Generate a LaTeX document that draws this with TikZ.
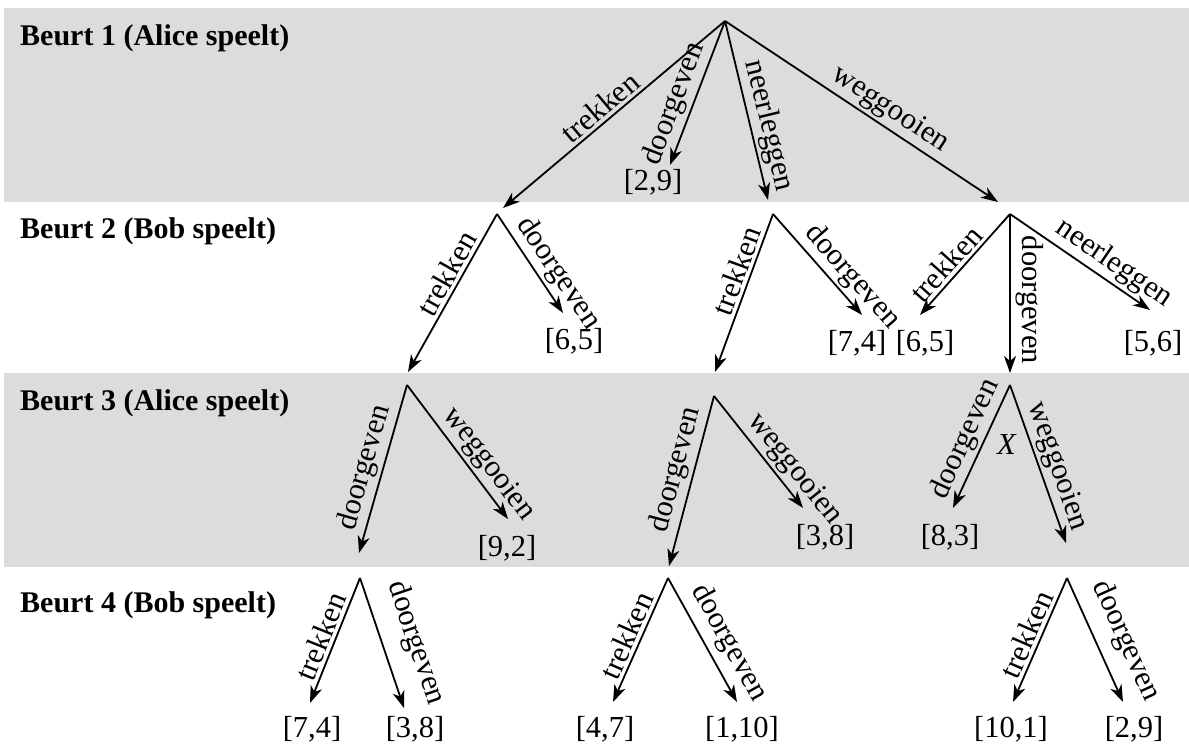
\documentclass[tikz,border=0pt]{standalone}
\usepackage{fontspec}
\setmainfont{Liberation Serif}
\usetikzlibrary{arrows.meta}
\definecolor{bandgray}{RGB}{220,220,220}
\begin{document}
\begin{tikzpicture}[x=1pt,y=-1pt,
  edge/.style={line width=1.8pt, -{Stealth[length=17pt,width=12pt,inset=5pt]}},
  lab/.style={sloped, above, inner sep=3pt, font=\fontsize{30.5}{36}\selectfont},
  pay/.style={inner sep=0pt, font=\fontsize{30.5}{36}\selectfont},
  head/.style={anchor=base west, inner sep=0pt, font=\fontsize{30}{36}\selectfont\bfseries}
]
\useasboundingbox (0,0) rectangle (1189,747);
\fill[bandgray] (4,8) rectangle (1189,202);
\fill[bandgray] (4,373) rectangle (1189,567);

\node[head] (h1) at (20,45) {Beurt 1 (Alice speelt)};
\node[head] (h2) at (20,238) {Beurt 2 (Bob speelt)};
\node[head] (h3) at (20,410) {Beurt 3 (Alice speelt)};
\node[head] (h4) at (20,612) {Beurt 4 (Bob speelt)};

% vertices
\coordinate (r) at (725,21);
\coordinate (b1) at (497,214);
\coordinate (b2) at (773,214);
\coordinate (b3) at (1010,214);
\coordinate (a1) at (407,385);
\coordinate (a2) at (714,396);
\coordinate (a3) at (1010,385);
\coordinate (c1) at (360,578);
\coordinate (c2) at (668,578);
\coordinate (c3) at (1067,578);

% arrow tips
\coordinate (t-r-b1) at (503,208);
\coordinate (t-r-29) at (670,165);
\coordinate (t-r-b2) at (768,200);
\coordinate (t-r-b3) at (998,202);
\coordinate (t-b1-a1) at (408,372);
\coordinate (t-b1-65) at (563,313);
\coordinate (t-b2-a2) at (715,372);
\coordinate (t-b2-74) at (862,315);
\coordinate (t-b3-65) at (920,315);
\coordinate (t-b3-a3) at (1010,373);
\coordinate (t-b3-56) at (1150,310);
\coordinate (t-a1-c1) at (359,553);
\coordinate (t-a1-92) at (508,519);
\coordinate (t-a2-c2) at (669,566);
\coordinate (t-a2-38) at (803,508);
\coordinate (t-a3-83) at (953,508);
\coordinate (t-a3-c3) at (1066,543);
\coordinate (t-c1-74) at (310,703);
\coordinate (t-c1-38) at (404,708);
\coordinate (t-c2-47) at (613,702);
\coordinate (t-c2-110) at (737,702);
\coordinate (t-c3-101) at (1013,702);
\coordinate (t-c3-29) at (1123,702);

% Beurt 1
\draw[edge] (r) -- node[lab,pos=0.52]{trekken} (t-r-b1);
\draw[edge] (r) -- node[lab,pos=0.62]{doorgeven} (t-r-29);
\draw[edge] (r) -- node[lab,pos=0.61]{neerleggen} (t-r-b2);
\draw[edge] (r) -- node[lab,pos=0.57]{weggooien} (t-r-b3);
\node[pay] (p-r-29) at (653,182) {[2,9]};

% Beurt 2
\draw[edge] (b1) -- node[lab,pos=0.42]{trekken} (t-b1-a1);
\draw[edge] (b1) -- node[lab,pos=0.70]{doorgeven} (t-b1-65);
\node[pay] (p-b1-65) at (574,341) {[6,5]};
\draw[edge] (b2) -- node[lab,pos=0.39]{trekken} (t-b2-a2);
\draw[edge] (b2) -- node[lab,pos=0.74]{doorgeven} (t-b2-74);
\node[pay] (p-b2-74) at (857,343) {[7,4]};
\draw[edge] (b3) -- node[lab,pos=0.59]{trekken} (t-b3-65);
\node[pay] (p-b3-65) at (925,343) {[6,5]};
\draw[edge] (b3) -- node[pos=0.54, rotate=-90, anchor=south, inner sep=5pt, font=\fontsize{30.5}{36}\selectfont]{doorgeven} (t-b3-a3);
\draw[edge] (b3) -- node[lab,pos=0.67]{neerleggen} (t-b3-56);
\node[pay] (p-b3-56) at (1153,343) {[5,6]};

% Beurt 3
\draw[edge] (a1) -- node[lab,pos=0.52]{doorgeven} (t-a1-c1);
\draw[edge] (a1) -- node[lab,pos=0.67]{weggooien} (t-a1-92);
\node[pay] (p-a1-92) at (507,548) {[9,2]};
\draw[edge] (a2) -- node[lab,pos=0.46]{doorgeven} (t-a2-c2);
\draw[edge] (a2) -- node[lab,pos=0.75]{weggooien} (t-a2-38);
\node[pay] (p-a2-38) at (825,537) {[3,8]};
\draw[edge] (a3) -- node[lab,pos=0.5]{doorgeven} (t-a3-83);
\node[pay] (p-a3-83) at (950,537) {[8,3]};
\draw[edge] (a3) -- node[lab,pos=0.55]{weggooien} (t-a3-c3);
\node[pay] (xlab) at (1007,445) {\textit{X}};

% Beurt 4
\draw[edge] (c1) -- node[lab,pos=0.51]{trekken} (t-c1-74);
\draw[edge] (c1) -- node[lab,pos=0.58,above=14pt]{doorgeven} (t-c1-38);
\node[pay] (p-c1-74) at (312,729) {[7,4]};
\node[pay] (p-c1-38) at (415,729) {[3,8]};
\draw[edge] (c2) -- node[lab,pos=0.51]{trekken} (t-c2-47);
\draw[edge] (c2) -- node[lab,pos=0.61,above=4pt]{doorgeven} (t-c2-110);
\node[pay] (p-c2-47) at (605,729) {[4,7]};
\node[pay] (p-c2-110) at (742,729) {[1,10]};
\draw[edge] (c3) -- node[lab,pos=0.5]{trekken} (t-c3-101);
\draw[edge] (c3) -- node[lab,pos=0.6,above=10pt]{doorgeven} (t-c3-29);
\node[pay] (p-c3-101) at (1011,729) {[10,1]};
\node[pay] (p-c3-29) at (1134,729) {[2,9]};
\end{tikzpicture}
\end{document}
